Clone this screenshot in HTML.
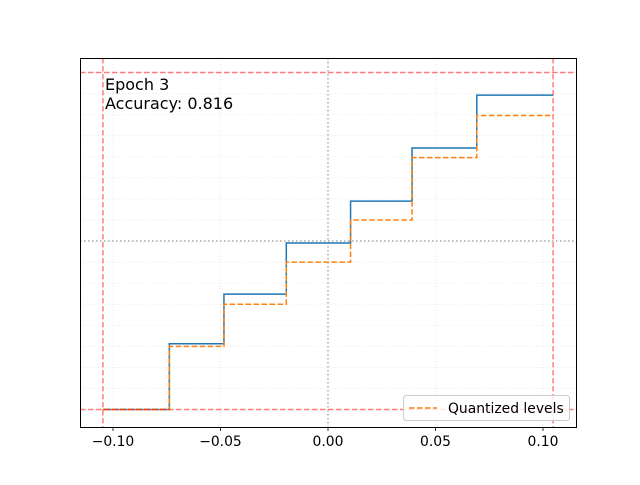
<!DOCTYPE html>
<html><head><meta charset="utf-8"><style>
body{margin:0;background:#fff}
svg text{font-family:"DejaVu Sans","Liberation Sans",sans-serif}
</style></head><body>
<svg id="chart" width="640" height="480" xmlns="http://www.w3.org/2000/svg">
<rect width="640" height="480" fill="#fff"/>
<g id="grid"></g>
<g id="marks"></g>
<rect x="80.5" y="58.5" width="496" height="369" fill="none" stroke="#000" stroke-width="1"/>
<g id="ticks"></g>
<text x="105" y="90" font-size="16" fill="#000">Epoch 3</text>
<text x="105" y="109" font-size="16" fill="#000">Accuracy: 0.816</text>
<g>
<rect x="403.5" y="395.5" width="166" height="25" rx="3" fill="#fff" fill-opacity="0.8" stroke="#ccc"/>
<line x1="409" y1="408" x2="437" y2="408" stroke="#ff7f0e" stroke-width="1.5" stroke-dasharray="5.5,2.5"/>
<text x="448" y="413" font-size="13.9" fill="#000">Quantized levels</text>
</g>
</svg>
<script>
const edges=[-0.1047,-0.0738,-0.0484,-0.0194,0.0105,0.0391,0.0692,0.1047];
const floatLevels=[-1.0,-0.61,-0.315,-0.012,0.237,0.552,0.866];
const quantLevels=[-1.0,-0.625,-0.375,-0.125,0.125,0.495,0.745];
const xTicks=[-0.10,-0.05,0.00,0.05,0.10];
const xTickLabels=["−0.10","−0.05","0.00","0.05","0.10"];
const clipRange=[-0.1047,0.1047];
const levelRange=[-1.0,1.0];
const NS="http://www.w3.org/2000/svg";
const X=v=>328+2150*v, Y=v=>241-168.5*v;
function mk(tag,attrs,parent){const e=document.createElementNS(NS,tag);for(const k in attrs)e.setAttribute(k,attrs[k]);parent.appendChild(e);return e;}
const grid=document.getElementById('grid'),marks=document.getElementById('marks'),ticks=document.getElementById('ticks');
xTicks.forEach(t=>{const l=mk('line',{x1:X(t),x2:X(t),y1:58,y2:427,stroke:'#e6e6e6','stroke-width':0.8,'stroke-dasharray':'1,2'},grid);

});
for(let v=-1.75;v<=1.1;v+=0.125){const yy=Y(v);if(yy<58||yy>427)continue;const l=mk('line',{x1:80,x2:576,y1:yy,y2:yy,stroke:'#e6e6e6','stroke-width':0.8,'stroke-dasharray':'1,2'},grid);

}
const z1=mk('line',{x1:X(0),x2:X(0),y1:58,y2:427,stroke:'#999','stroke-width':1.2,'stroke-dasharray':'1.5,2.5'},grid);


const z2=mk('line',{x1:80,x2:576,y1:Y(0),y2:Y(0),stroke:'#999','stroke-width':1.2,'stroke-dasharray':'1.5,2.5'},grid);


function stepPath(lv){let d='';for(let i=0;i<lv.length;i++){d+=(i?'L':'M')+X(edges[i])+','+Y(lv[i])+'L'+X(edges[i+1])+','+Y(lv[i]);}return d;}
const pf=mk('path',{d:stepPath(floatLevels),fill:'none',stroke:'#1f77b4','stroke-width':1.5},marks);


const pq=mk('path',{d:stepPath(quantLevels),fill:'none',stroke:'#ff7f0e','stroke-width':1.5,'stroke-dasharray':'5.5,2.5'},marks);


clipRange.forEach(c=>{const l=mk('line',{x1:X(c),x2:X(c),y1:58,y2:427,stroke:'#ff0000','stroke-opacity':0.5,'stroke-width':1.5,'stroke-dasharray':'5.5,2.5'},marks);

});
levelRange.forEach(c=>{const l=mk('line',{x1:80,x2:576,y1:Y(c),y2:Y(c),stroke:'#ff0000','stroke-opacity':0.5,'stroke-width':1.5,'stroke-dasharray':'5.5,2.5'},marks);

});
xTicks.forEach((t,i)=>{const tk=mk('line',{x1:X(t),x2:X(t),y1:427,y2:431,stroke:'#000','stroke-width':0.8},ticks);


const tx=mk('text',{x:X(t),y:446,'font-size':13.9,'text-anchor':'middle',fill:'#000'},ticks);tx.textContent=xTickLabels[i];

});
</script>
</body></html>
